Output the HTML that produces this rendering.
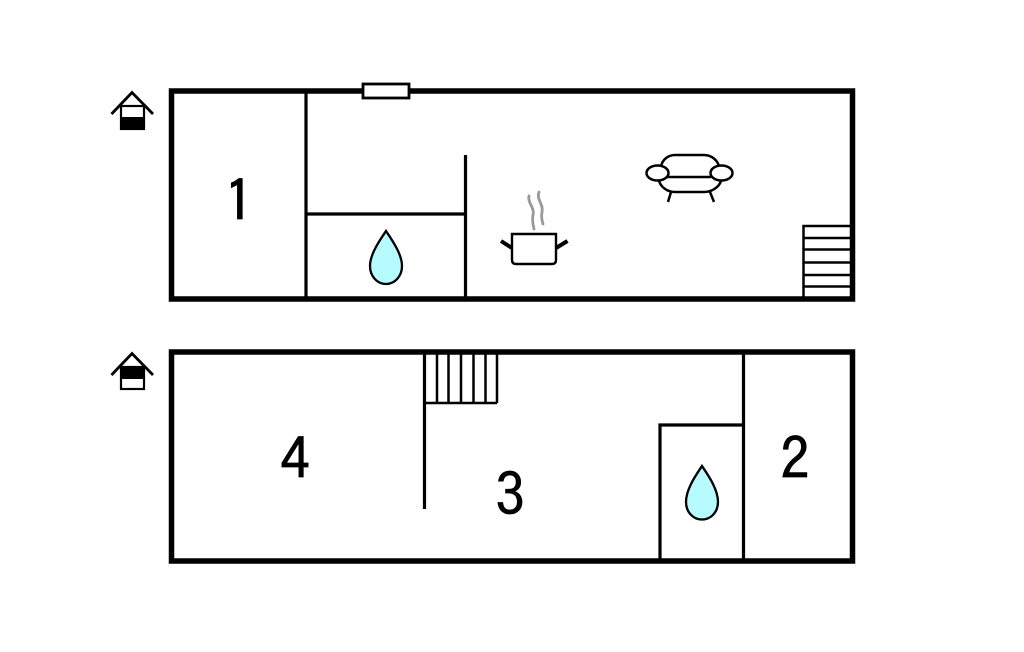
<!DOCTYPE html>
<html>
<head>
<meta charset="utf-8">
<style>
html,body{margin:0;padding:0;background:#fff;width:1024px;height:652px;overflow:hidden}
svg{display:block}
text{font-family:"IPAGothic","Liberation Sans",sans-serif;fill:#000}
</style>
</head>
<body>
<svg width="1024" height="652" viewBox="0 0 1024 652" xmlns="http://www.w3.org/2000/svg">
<g fill="none" stroke="#000" stroke-linecap="butt">
  <!-- top floor -->
  <rect x="171.500" y="91" width="681" height="208" stroke-width="5.500"/>
  <path d="M306 91V299M465.500 155V299M306 214H465.500" stroke-width="3.200"/>
  <rect x="363" y="84" width="46" height="14" fill="#fff" stroke-width="2.800"/>
  <!-- stairs top -->
  <path d="M803.500 299V226H851M803.500 238H851M803.500 249.500H851M803.500 262.500H851M803.500 275H851M803.500 286.500H851" stroke-width="2.500"/>
  <!-- bottom floor -->
  <rect x="171.500" y="352" width="681" height="209" stroke-width="5.500"/>
  <path d="M424.500 352V509M743.500 352V561M660 561V425H743.500" stroke-width="3.200"/>
  <path d="M424.500 403H497M497 352V403M437 352V403M448.500 352V403M461 352V403M473.500 352V403M485.500 352V403" stroke-width="2.500"/>
  <!-- house icons -->
  <path d="M111.500 114L132 92.500L153 114" stroke-width="2.800"/>
  <rect x="121" y="106" width="23" height="23" stroke-width="2.200"/>
  <path d="M111.500 375L132 353.500L153 375" stroke-width="2.800"/>
  <rect x="121" y="367" width="23" height="22" stroke-width="2.200"/>
</g>
<rect x="120" y="117" width="24" height="13" fill="#000"/>
<rect x="120" y="367" width="24" height="12" fill="#000"/>

<!-- drops -->
<path d="M386 231C392 240 402 254 402 266C402 276 395 284 386 284C377 284 370 276 370 266C370 254 380 240 386 231Z" fill="#b5fbff" stroke="#000" stroke-width="2.300"/>
<path d="M702 466C708 475 718 489 718 502C718 512 711 519.500 702 519.500C693 519.500 686 512 686 502C686 489 696 475 702 466Z" fill="#b5fbff" stroke="#000" stroke-width="2.300"/>

<!-- pot -->
<g fill="none" stroke-linecap="round">
  <path d="M512 234H556V260Q556 264 552 264H516Q512 264 512 260Z" stroke="#000" stroke-width="2.400"/>
  <path d="M501 241L512 248M567.500 241L556 248" stroke="#000" stroke-width="4" stroke-linecap="butt"/>
  <path d="M529 196C527 202 535 208 533 215C532 220 533 225 534 229M539 192C536 199 544 205 542 212C541 217 542 220 543 224" stroke="#999" stroke-width="2.800"/>
</g>

<!-- sofa -->
<g fill="none" stroke="#000" stroke-width="2.500">
  <path d="M661 167C662 159 669 155 675 155H704C711 155 718 160 719 167"/>
  <path d="M659 181C661 187 667 192 675 192H704C712 192 719 187 721 181"/>
  <path d="M667 177H711"/>
  <ellipse cx="657.500" cy="173" rx="11" ry="7.500" fill="#fff"/>
  <ellipse cx="721.500" cy="173" rx="11" ry="7.500" fill="#fff"/>
  <path d="M671 192L668 202M710 192L714 202"/>
</g>

<!-- numbers -->
<g font-size="58" text-anchor="middle" stroke="#000" stroke-width="0.800">
<text x="239" y="222">1</text>
<text x="295" y="480">4</text>
<text x="510" y="516">3</text>
<text x="795" y="480">2</text>
</g>
</svg>
</body>
</html>
